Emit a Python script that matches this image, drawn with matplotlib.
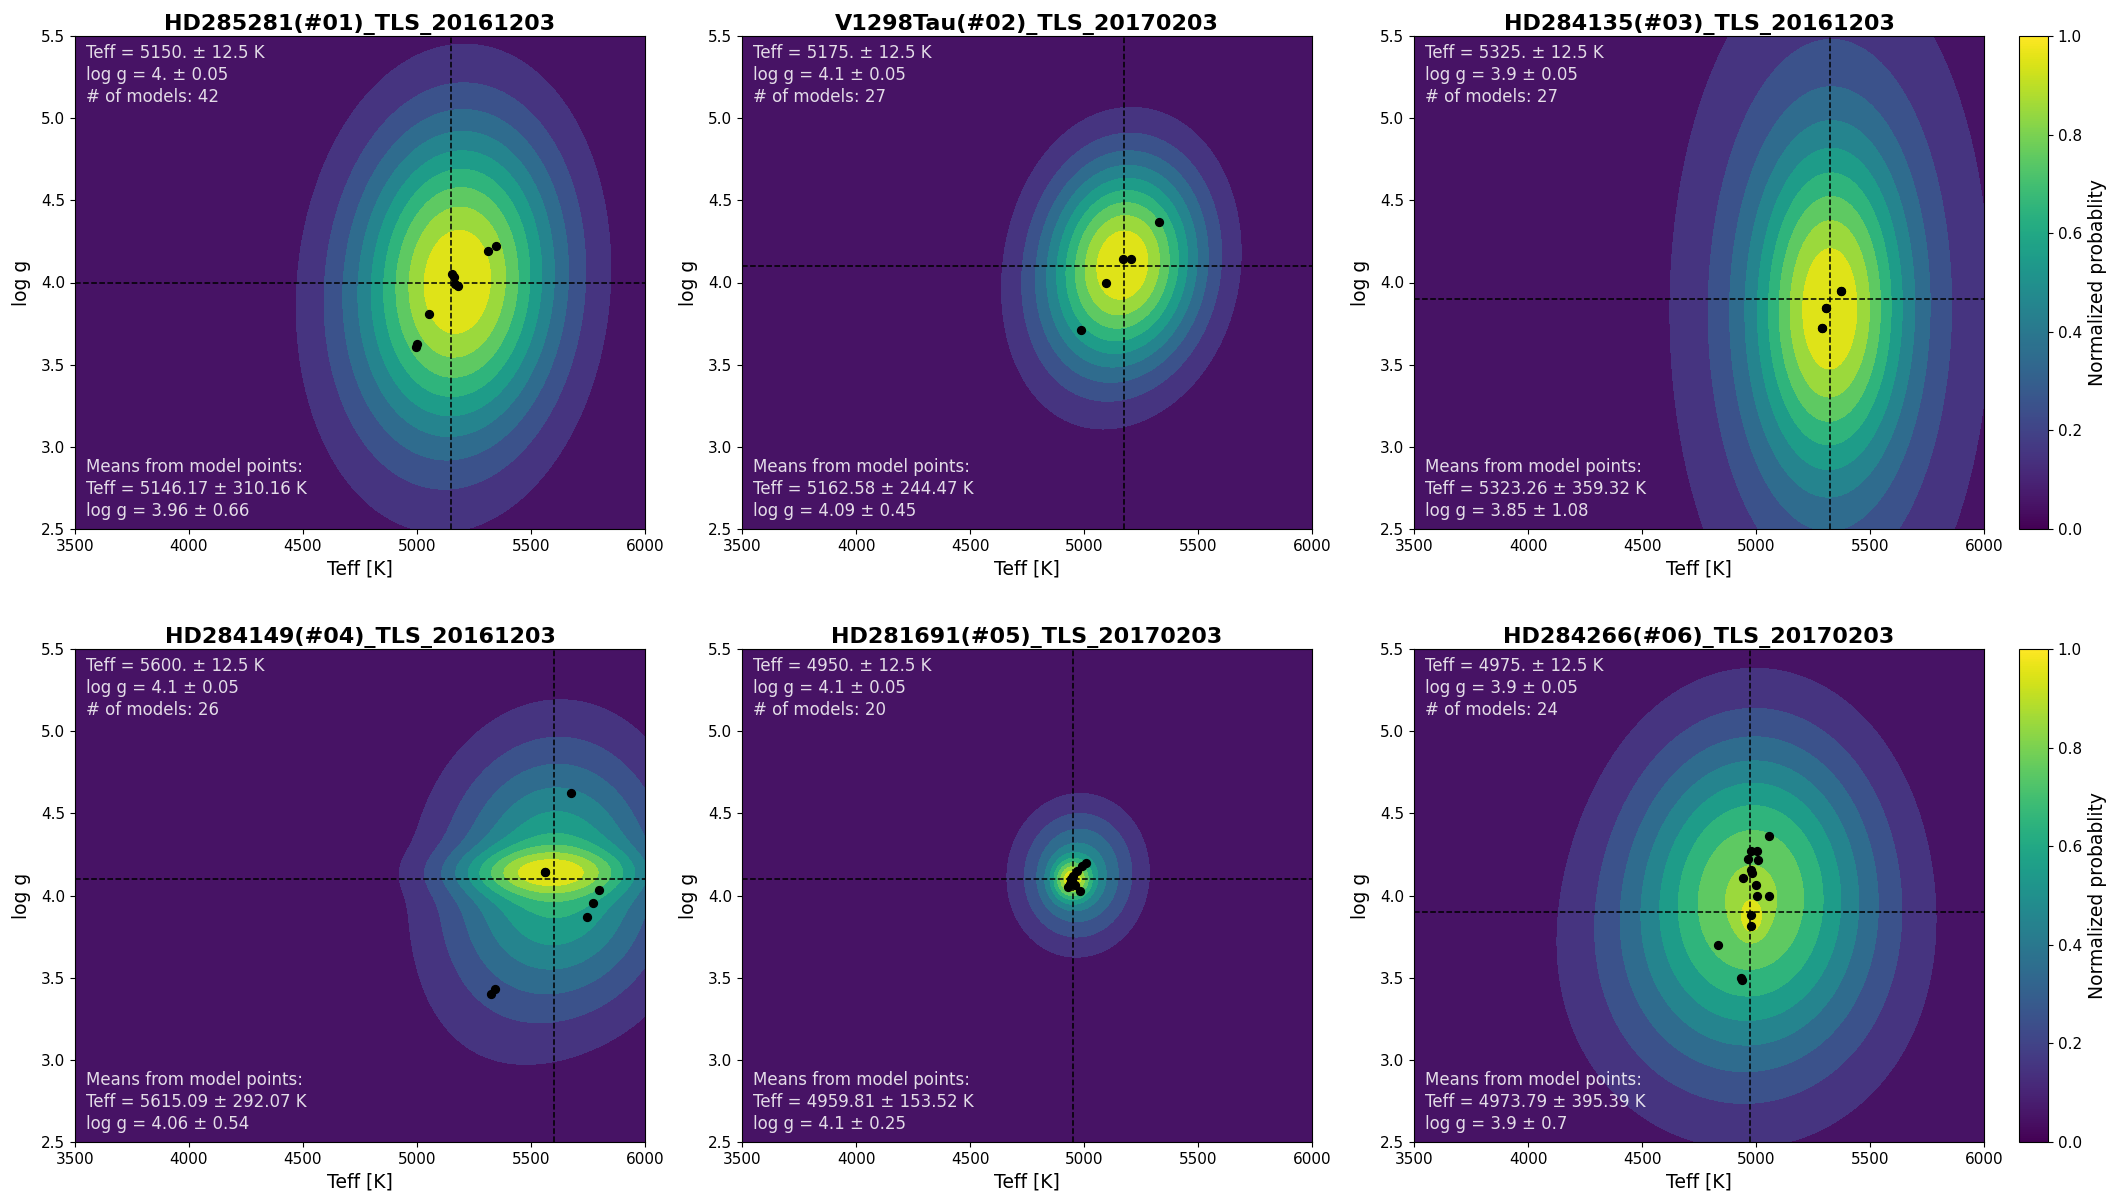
import numpy as np
import matplotlib
matplotlib.use("Agg")
import matplotlib.pyplot as plt
from matplotlib.colors import Normalize
from matplotlib.cm import ScalarMappable

# ---------------- data ----------------
titles = ["HD285281(#01)_TLS_20161203", "V1298Tau(#02)_TLS_20170203",
          "HD284135(#03)_TLS_20161203", "HD284149(#04)_TLS_20161203",
          "HD281691(#05)_TLS_20170203", "HD284266(#06)_TLS_20170203"]
target_teff = [5150, 5175, 5325, 5600, 4950, 4975]
target_logg = [4.0, 4.1, 3.9, 4.1, 4.1, 3.9]
target_teff_txt = ["5150.", "5175.", "5325.", "5600.", "4950.", "4975."]
target_logg_txt = ["4.", "4.1", "3.9", "4.1", "4.1", "3.9"]
n_models = [42, 27, 27, 26, 20, 24]
mean_teff_txt = ["5146.17", "5162.58", "5323.26", "5615.09", "4959.81", "4973.79"]
std_teff_txt = ["310.16", "244.47", "359.32", "292.07", "153.52", "395.39"]
mean_logg_txt = ["3.96", "4.09", "3.85", "4.06", "4.1", "3.9"]
std_logg_txt = ["0.66", "0.45", "1.08", "0.54", "0.25", "0.7"]

# model points: Teff, log g, number of models, per-model uncertainties
p1_teff = [5311, 5348, 5154, 5164, 5178, 5168, 5054, 5001, 4996]
p1_logg = [4.19, 4.22, 4.05, 4.035, 3.98, 3.99, 3.81, 3.625, 3.61]
p1_nmod = [5, 4, 6, 6, 6, 6, 4, 3, 2]
p1_sig_teff = [295, 295, 295, 295, 295, 295, 340, 340, 340]
p1_sig_logg = [0.65, 0.65, 0.65, 0.65, 0.65, 0.65, 0.74, 0.74, 0.74]

p2_teff = [5172, 5204, 5097, 4985, 5330]
p2_logg = [4.143, 4.143, 3.994, 3.71, 4.368]
p2_nmod = [10, 8, 4, 3, 2]
p2_sig_teff = [232, 232, 232, 232, 232]
p2_sig_logg = [0.43, 0.43, 0.43, 0.43, 0.43]

p3_teff = [5374, 5374, 5308, 5308, 5290, 5290]
p3_logg = [3.951, 3.951, 3.843, 3.843, 3.726, 3.726]
p3_nmod = [6, 3, 6, 3, 6, 3]
p3_sig_teff = [220, 440, 220, 440, 220, 440]
p3_sig_logg = [0.68, 1.35, 0.68, 1.35, 0.68, 1.35]

p4_teff = [5560, 5560, 5677, 5798, 5771, 5747, 5344, 5325]
p4_logg = [4.142, 4.142, 4.621, 4.031, 3.952, 3.871, 3.432, 3.402]
p4_nmod = [8, 10, 2, 1, 1, 2, 1, 1]
p4_sig_teff = [275, 315, 310, 310, 310, 310, 310, 310]
p4_sig_logg = [0.10, 0.50, 0.50, 0.50, 0.50, 0.50, 0.50, 0.50]

p5_teff = [4949, 4945, 4938, 4953, 5010, 4991, 4968, 4930, 4962, 4983]
p5_logg = [4.089, 4.10, 4.073, 4.119, 4.195, 4.177, 4.149, 4.05, 4.061, 4.027]
p5_nmod = [3, 3, 2, 2, 2, 2, 2, 2, 1, 1]
p5_sig_teff = [55, 55, 55, 55, 172, 172, 172, 172, 172, 172]
p5_sig_logg = [0.08, 0.08, 0.08, 0.08, 0.27, 0.27, 0.27, 0.27, 0.27, 0.27]

p6_teff = [5059, 4980, 5006, 4965, 5010, 4980, 4982, 4943, 4998, 5004, 5059,
           4980, 4980, 4834, 4934, 4940]
p6_logg = [4.362, 4.27, 4.27, 4.223, 4.217, 4.154, 4.135, 4.107, 4.066, 3.999,
           3.999, 3.881, 3.816, 3.70, 3.499, 3.488]
p6_nmod = [1, 2, 1, 1, 1, 2, 1, 1, 1, 1, 1, 3, 1, 1, 4, 2]
p6_sig_teff = [365, 365, 365, 365, 365, 365, 365, 365, 365, 365, 365,
               35, 35, 460, 460, 460]
p6_sig_logg = [0.62, 0.62, 0.62, 0.62, 0.62, 0.62, 0.62, 0.62, 0.62, 0.62, 0.62,
               0.07, 0.07, 0.64, 0.64, 0.64]

panels = [
    (p1_teff, p1_logg, p1_nmod, p1_sig_teff, p1_sig_logg),
    (p2_teff, p2_logg, p2_nmod, p2_sig_teff, p2_sig_logg),
    (p3_teff, p3_logg, p3_nmod, p3_sig_teff, p3_sig_logg),
    (p4_teff, p4_logg, p4_nmod, p4_sig_teff, p4_sig_logg),
    (p5_teff, p5_logg, p5_nmod, p5_sig_teff, p5_sig_logg),
    (p6_teff, p6_logg, p6_nmod, p6_sig_teff, p6_sig_logg),
]

# ---------------- figure ----------------
W, H = 2111, 1196
fig = plt.figure(figsize=(W / 100, H / 100), dpi=100)
lefts = [75 / W, 742 / W, 1414 / W]
bottoms = [1 - 529 / H, 1 - 1142 / H]
aw, ah = 570 / W, 493 / H

tg = np.linspace(3500, 6000, 400)
lg = np.linspace(2.5, 5.5, 400)
TT, LL = np.meshgrid(tg, lg)
levels = np.linspace(0, 1, 11)
cmap = plt.get_cmap("viridis")
txt_kw = dict(color="white", alpha=0.85, fontsize=12, linespacing=1.3)

for i, (te, lo, nm, st, sl) in enumerate(panels):
    r, c = divmod(i, 3)
    ax = fig.add_axes([lefts[c], bottoms[r], aw, ah])
    Z = np.zeros_like(TT)
    for t, l, n, s1, s2 in zip(te, lo, nm, st, sl):
        Z += n * np.exp(-0.5 * ((TT - t) / s1) ** 2 - 0.5 * ((LL - l) / s2) ** 2)
    Z /= Z.max()
    ax.contourf(TT, LL, Z, levels=levels, cmap=cmap, vmin=0, vmax=1)
    ax.scatter(te, lo, s=32, color="k", zorder=3)
    ax.axvline(target_teff[i], color="k", ls="--", lw=1.1, zorder=2)
    ax.axhline(target_logg[i], color="k", ls="--", lw=1.1, zorder=2)
    ax.set_xlim(3500, 6000)
    ax.set_ylim(2.5, 5.5)
    ax.set_xticks([3500, 4000, 4500, 5000, 5500, 6000])
    ax.set_yticks([2.5, 3.0, 3.5, 4.0, 4.5, 5.0, 5.5])
    ax.tick_params(labelsize=11)
    ax.set_xlabel("Teff [K]", fontsize=13.5, labelpad=4)
    ax.set_ylabel("log g", fontsize=13.5, labelpad=7)
    ax.set_title(titles[i], fontsize=16, fontweight="bold", pad=4)
    ax.text(0.02, 0.984,
            f"Teff = {target_teff_txt[i]} \u00b1 12.5 K\n"
            f"log g = {target_logg_txt[i]} \u00b1 0.05\n"
            f"# of models: {n_models[i]}",
            transform=ax.transAxes, ha="left", va="top", **txt_kw)
    ax.text(0.02, 0.018,
            "Means from model points:\n"
            f"Teff = {mean_teff_txt[i]} \u00b1 {std_teff_txt[i]} K\n"
            f"log g = {mean_logg_txt[i]} \u00b1 {std_logg_txt[i]}",
            transform=ax.transAxes, ha="left", va="bottom", **txt_kw)

for r in range(2):
    cax = fig.add_axes([2019 / W, bottoms[r], 29 / W, ah])
    sm = ScalarMappable(norm=Normalize(0, 1), cmap=cmap)
    cb = fig.colorbar(sm, cax=cax)
    cb.set_ticks([0.0, 0.2, 0.4, 0.6, 0.8, 1.0])
    cb.ax.tick_params(labelsize=11)
    cb.set_label("Normalized probablity", fontsize=13.5)

fig.savefig("out.png", dpi=100)
